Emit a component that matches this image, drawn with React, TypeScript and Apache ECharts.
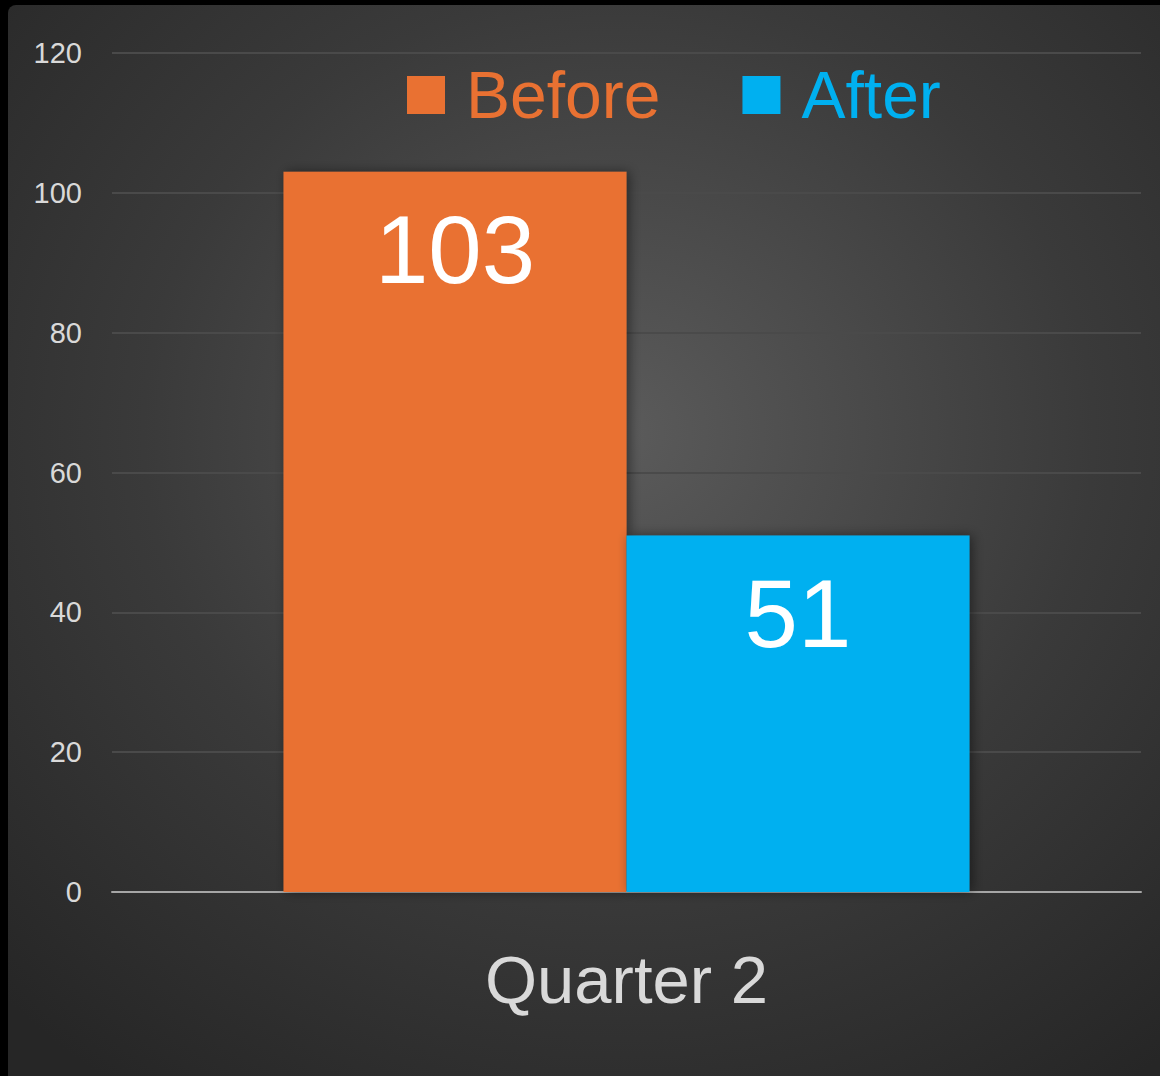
import React, { useEffect, useRef } from "react";
import * as echarts from "echarts";

const categories = ["Quarter 2"];
const beforeValues = [103];
const afterValues = [51];
const seriesNames = ["Before", "After"];
const yTicks = [0, 20, 40, 60, 80, 100, 120];

const ORANGE = "#E97132";
const BLUE = "#00B0F0";
const FONT = "'Liberation Sans', Arial, sans-serif";

export default function App() {
  const ref = useRef<HTMLDivElement>(null);
  useEffect(() => {
    document.body.style.margin = "0";
    document.body.style.background = "#000";
    const chart = echarts.init(ref.current!, null, { renderer: "svg" });
    chart.setOption({
      animation: false,
      backgroundColor: {
        type: "radial",
        x: 0.53,
        y: 0.4,
        r: 0.75,
        colorStops: [
          { offset: 0, color: "#5b5b5b" },
          { offset: 0.55, color: "#3a3a3a" },
          { offset: 1, color: "#262626" },
        ],
      },
      grid: { left: 104, right: 19, top: 48, bottom: 184, containLabel: false },
      legend: {
        left: 394,
        top: 52,
        itemWidth: 38,
        itemHeight: 38,
        itemGap: 82,
        icon: "rect",
        textStyle: { fontSize: 66, fontFamily: FONT, padding: [0, 0, 0, 16] },
        data: [
          { name: seriesNames[0], textStyle: { color: ORANGE } },
          { name: seriesNames[1], textStyle: { color: BLUE } },
        ],
      },
      xAxis: {
        type: "category",
        data: categories,
        axisLine: { lineStyle: { color: "#a6a6a6", width: 2 } },
        axisTick: { show: false },
        axisLabel: { color: "#d9d9d9", fontSize: 67, fontFamily: FONT, margin: 54 },
      },
      yAxis: {
        type: "value",
        min: yTicks[0],
        max: yTicks[yTicks.length - 1],
        interval: 20,
        axisLine: { show: false },
        axisTick: { show: false },
        splitLine: { lineStyle: { color: "#4a4a4a", width: 2 } },
        axisLabel: { color: "#d9d9d9", fontSize: 29, fontFamily: FONT, margin: 30 },
      },
      series: [
        {
          name: seriesNames[0],
          type: "bar",
          data: beforeValues,
          barWidth: 343,
          barGap: "0%",
          itemStyle: {
            color: ORANGE,
            shadowBlur: 12,
            shadowColor: "rgba(0,0,0,0.45)",
            shadowOffsetX: 3,
          },
          label: {
            show: true,
            position: "insideTop",
            distance: 30,
            color: "#ffffff",
            fontSize: 96,
            fontFamily: FONT,
          },
        },
        {
          name: seriesNames[1],
          type: "bar",
          data: afterValues,
          barWidth: 343,
          barGap: "0%",
          itemStyle: {
            color: BLUE,
            shadowBlur: 12,
            shadowColor: "rgba(0,0,0,0.45)",
            shadowOffsetX: 3,
          },
          label: {
            show: true,
            position: "insideTop",
            distance: 30,
            color: "#ffffff",
            fontSize: 96,
            fontFamily: FONT,
          },
        },
      ],
    });
    return () => chart.dispose();
  }, []);
  return (
    <div
      ref={ref}
      style={{
        width: 1152,
        height: 1071,
        marginLeft: 8,
        marginTop: 5,
        borderTopLeftRadius: 8,
        overflow: "hidden",
      }}
    />
  );
}
